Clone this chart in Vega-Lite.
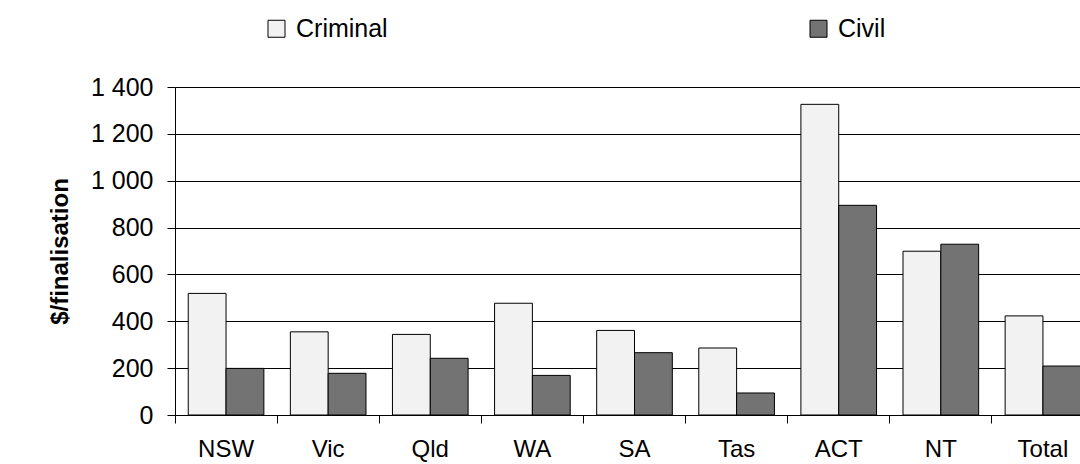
{
  "$schema": "https://vega.github.io/schema/vega-lite/v6.json",
  "width": 905,
  "height": 328,
  "autosize": {"type": "none"},
  "padding": {"left": 175, "top": 87, "right": 0, "bottom": 49},
  "background": "white",
  "config": {"font": "Liberation Sans", "view": {"stroke": null}},
  "data": {
    "values": [
      {"jurisdiction": "NSW", "type": "Criminal", "value": 519},
      {"jurisdiction": "NSW", "type": "Civil", "value": 199},
      {"jurisdiction": "Vic", "type": "Criminal", "value": 355},
      {"jurisdiction": "Vic", "type": "Civil", "value": 178},
      {"jurisdiction": "Qld", "type": "Criminal", "value": 344},
      {"jurisdiction": "Qld", "type": "Civil", "value": 242},
      {"jurisdiction": "WA", "type": "Criminal", "value": 477},
      {"jurisdiction": "WA", "type": "Civil", "value": 169},
      {"jurisdiction": "SA", "type": "Criminal", "value": 361},
      {"jurisdiction": "SA", "type": "Civil", "value": 266},
      {"jurisdiction": "Tas", "type": "Criminal", "value": 286},
      {"jurisdiction": "Tas", "type": "Civil", "value": 94},
      {"jurisdiction": "ACT", "type": "Criminal", "value": 1326},
      {"jurisdiction": "ACT", "type": "Civil", "value": 895},
      {"jurisdiction": "NT", "type": "Criminal", "value": 699},
      {"jurisdiction": "NT", "type": "Civil", "value": 729},
      {"jurisdiction": "Total", "type": "Criminal", "value": 423},
      {"jurisdiction": "Total", "type": "Civil", "value": 209}
    ]
  },
  "mark": {"type": "bar", "stroke": "black", "strokeWidth": 1, "clip": true},
  "encoding": {
    "x": {
      "field": "jurisdiction",
      "type": "nominal",
      "sort": ["NSW", "Vic", "Qld", "WA", "SA", "Tas", "ACT", "NT", "Total"],
      "scale": {"range": [0, 919], "paddingInner": 0, "paddingOuter": 0},
      "axis": {
        "title": null,
        "bandPosition": 0,
        "labelAngle": 0,
        "labelFontSize": 24,
        "labelColor": "black",
        "labelPadding": 14,
        "tickSize": 8,
        "tickColor": "black",
        "domainColor": "black",
        "grid": false
      }
    },
    "xOffset": {
      "field": "type",
      "sort": ["Criminal", "Civil"],
      "scale": {"paddingInner": 0, "paddingOuter": 0.35}
    },
    "y": {
      "field": "value",
      "type": "quantitative",
      "scale": {"domain": [0, 1400], "nice": false},
      "axis": {
        "title": "$/finalisation",
        "titleFontSize": 24,
        "titleFontWeight": "bold",
        "titleColor": "black",
        "titlePadding": 18,
        "values": [0, 200, 400, 600, 800, 1000, 1200, 1400],
        "labelExpr": "replace(format(datum.value, ','), ',', ' ')",
        "labelFontSize": 25,
        "labelColor": "black",
        "labelPadding": 14,
        "tickSize": 8,
        "tickColor": "black",
        "domainColor": "black",
        "gridColor": "black",
        "gridWidth": 1
      }
    },
    "color": {
      "field": "type",
      "type": "nominal",
      "scale": {"domain": ["Criminal", "Civil"], "range": ["#f2f2f2", "#737373"]},
      "legend": {
        "orient": "none",
        "legendX": 89,
        "legendY": -71,
        "direction": "horizontal",
        "title": null,
        "symbolType": "square",
        "symbolSize": 289,
        "symbolStrokeColor": "black",
        "symbolStrokeWidth": 1,
        "symbolOpacity": 1,
        "labelFontSize": 25,
        "labelColor": "black",
        "labelOffset": 7,
        "columnPadding": 418
      }
    }
  }
}
